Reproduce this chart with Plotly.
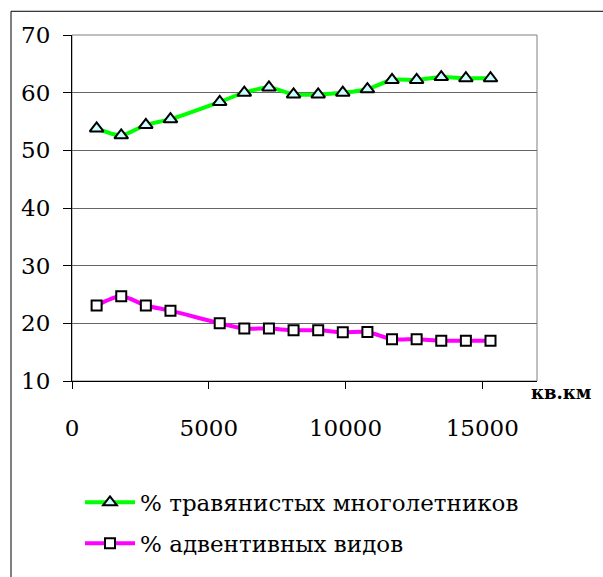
import plotly.graph_objects as go

area_km2 = [900, 1800, 2700, 3600, 5400, 6300, 7200, 8100, 9000, 9900,
            10800, 11700, 12600, 13500, 14400, 15300]
perennial_pct = [53.8, 52.6, 54.4, 55.4, 58.4, 60.0, 60.9, 59.7, 59.7, 60.0,
                 60.6, 62.2, 62.2, 62.7, 62.5, 62.5]
adventive_pct = [23.1, 24.7, 23.1, 22.2, 20.0, 19.1, 19.1, 18.8, 18.8, 18.45,
                 18.5, 17.25, 17.25, 17.0, 17.0, 17.0]
series_names = ["% травянистых многолетников", "% адвентивных видов"]
x_ticks = [0, 5000, 10000, 15000]
x_ticktext = ["0", "5000", "10000", "15000"]
y_ticks = [10, 20, 30, 40, 50, 60, 70]
x_unit = "кв.км"

FONT = "DejaVu Serif"

fig = go.Figure()
fig.add_trace(go.Scatter(
    x=area_km2, y=perennial_pct, name=series_names[0], mode="lines+markers",
    line=dict(color="#00FF00", width=4, shape="spline", smoothing=0.8),
    marker=dict(symbol="triangle-up", size=12, color="#CCFFFF",
                line=dict(color="black", width=2)),
    legendgroup="a",
))
fig.add_trace(go.Scatter(
    x=area_km2, y=adventive_pct, name=series_names[1], mode="lines+markers",
    line=dict(color="#FF00FF", width=4, shape="spline", smoothing=0.8),
    marker=dict(symbol="square", size=10, color="white",
                line=dict(color="black", width=2)),
    legendgroup="b",
))

L, T, W, H = 72, 35, 465, 350
fig.update_layout(
    width=603, height=577,
    margin=dict(l=L, r=603 - L - W, t=T, b=577 - T - H),
    paper_bgcolor="white", plot_bgcolor="white",
    font=dict(family=FONT, size=23, color="black"),
    showlegend=True,
    legend=dict(x=(80 - L) / W, y=(385 - 486) / H, xanchor="left", yanchor="top",
                font=dict(family=FONT, size=23, color="black"), itemwidth=50,
                tracegroupgap=8, bgcolor="rgba(0,0,0,0)"),
    xaxis=dict(range=[0, 17000], tickvals=x_ticks, ticktext=x_ticktext,
               showgrid=False, zeroline=False,
               showline=True, linecolor="black", linewidth=1,
               ticks="outside", ticklen=7, tickcolor="black",
               ticklabelstandoff=19, tickfont=dict(family=FONT, size=23, color="black")),
    yaxis=dict(range=[10, 70], tickvals=y_ticks, showgrid=True, gridcolor="#666666",
               gridwidth=1, zeroline=False, showline=True, linecolor="black",
               linewidth=1, ticks="outside", ticklen=8, tickcolor="black",
               ticklabelstandoff=8, tickfont=dict(family=FONT, size=23, color="black")),
    shapes=[
        dict(type="rect", xref="paper", yref="paper", x0=0, x1=1, y0=0, y1=1,
             line=dict(color="#808080", width=1), layer="below"),
        dict(type="rect", xref="paper", yref="paper",
             x0=(11 - L) / W, x1=1.3, y0=-1.0, y1=1 + (T - 11) / H,
             line=dict(color="black", width=1)),
    ],
    annotations=[
        dict(text="<b>" + x_unit + "</b>", xref="paper", yref="paper",
             x=(529 - L) / W, y=(385 - 397) / H, xanchor="left", yanchor="middle",
             showarrow=False, font=dict(family=FONT, size=18, color="black")),
    ],
)

fig.write_html("out.html")
